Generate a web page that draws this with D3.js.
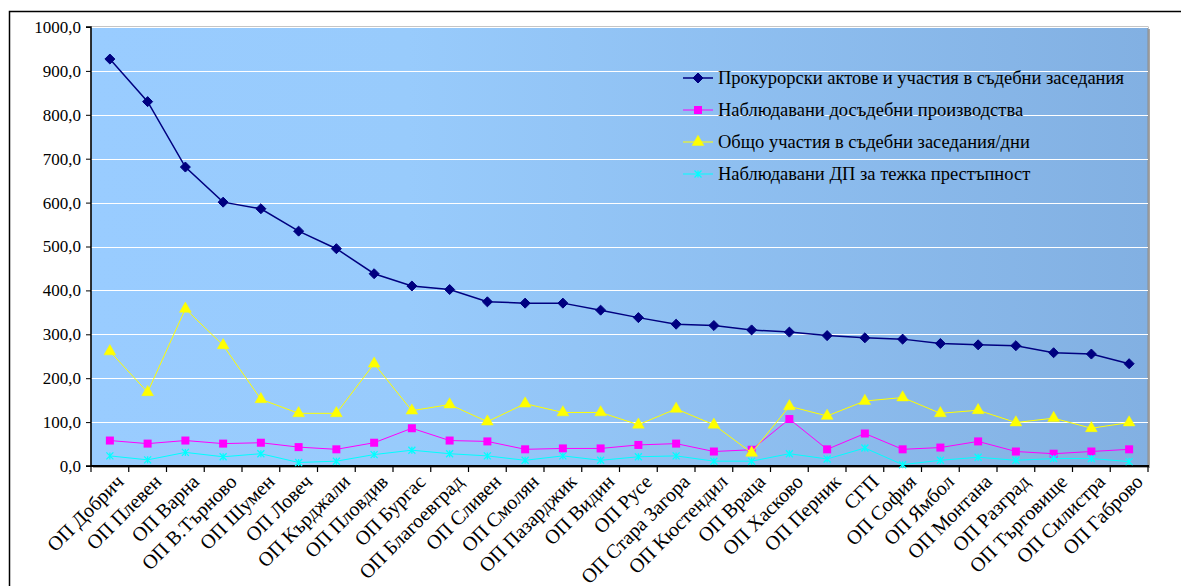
<!DOCTYPE html>
<html><head><meta charset="utf-8">
<script src="https://cdn.jsdelivr.net/npm/d3@7"></script>
<style>
html,body{margin:0;padding:0;background:#fff;overflow:hidden;}
svg text{font-family:"Liberation Serif","Times New Roman","DejaVu Serif",serif !important;}
</style></head>
<body>
<svg id="c" width="1181" height="586"></svg>
<script>
const categories = ["ОП Добрич","ОП Плевен","ОП Варна","ОП В.Търново","ОП Шумен","ОП Ловеч","ОП Кърджали","ОП Пловдив","ОП Бургас","ОП Благоевград","ОП Сливен","ОП Смолян","ОП Пазарджик","ОП Видин","ОП Русе","ОП Стара Загора","ОП Кюстендил","ОП Враца","ОП Хасково","ОП Перник","СГП","ОП София","ОП Ямбол","ОП Монтана","ОП Разград","ОП Търговище","ОП Силистра","ОП Габрово"];
const prosecutorActs = [927,830,681,601,586,535,495,438,410,402,374,371,371,355,338,323,320,310,305,297,292,289,279,276,274,258,255,233];
const pretrialObserved = [58,51,58,51,53,43,38,53,86,58,56,38,40,40,48,51,33,37,107,38,74,38,42,56,33,28,33,38];
const courtSessions = [261,168,358,275,152,120,120,233,126,140,101,142,122,122,94,130,94,30,136,114,148,156,120,127,99,109,86,99];
const seriousCrime = [23,14,31,21,28,8,11,26,36,28,23,13,23,13,21,23,11,11,28,16,41,3,13,20,13,17,17,10];
const yTicks = [0,100,200,300,400,500,600,700,800,900,1000];
const seriesNames = ["Прокурорски актове и участия в съдебни заседания","Наблюдавани досъдебни производства","Общо участия в съдебни заседания/дни","Наблюдавани ДП за тежка престъпност"];

const series = [
  {name:seriesNames[0], values:prosecutorActs, color:"#000080", marker:"diamond", lw:1.5},
  {name:seriesNames[1], values:pretrialObserved, color:"#ff00ff", marker:"square", lw:1},
  {name:seriesNames[2], values:courtSessions, color:"#ffff00", marker:"triangle", lw:1},
  {name:seriesNames[3], values:seriousCrime, color:"#00ffff", marker:"star", lw:1}
];

const svg = d3.select("#c");
const L=91, R=1148, T=27, B=466;
const x = d3.scaleBand().domain(categories).range([L,R]);
const cx = c => x(c)+x.bandwidth()/2;
const y = d3.scaleLinear().domain([0,1000]).range([B,T]);

svg.append("path").attr("d","M9.5,600 L9.5,11.5 L1200,11.5").attr("fill","none").attr("stroke","#000").attr("stroke-width",1.5);

const defs = svg.append("defs");
const g = defs.append("linearGradient").attr("id","bg").attr("x1","0").attr("x2","1").attr("y1","0").attr("y2","0");
g.append("stop").attr("offset","0").attr("stop-color","#99ccff");
g.append("stop").attr("offset","0.3").attr("stop-color","#98cbfc");
g.append("stop").attr("offset","1").attr("stop-color","#82b0e2");

svg.append("rect").attr("x",L+2).attr("y",T+2).attr("width",R-L).attr("height",B-T).attr("fill","#a6a6a6");
svg.append("rect").attr("x",L).attr("y",T).attr("width",R-L).attr("height",B-T).attr("fill","url(#bg)").attr("stroke","#8c8c8c").attr("stroke-width",1);

svg.append("g").selectAll("line").data(yTicks.filter(d=>d>0)).join("line")
  .attr("x1",L).attr("x2",R).attr("y1",d=>Math.round(y(d))+0.5).attr("y2",d=>Math.round(y(d))+0.5)
  .attr("stroke","#fff").attr("stroke-width",1.2);

const yAxis = d3.axisLeft(y).tickValues(yTicks).tickSize(5).tickPadding(5)
  .tickFormat(d=>d3.format(".1f")(d).replace(".",","));
const ya = svg.append("g").attr("transform",`translate(${L},0)`).call(yAxis);
ya.attr("font-family",null).attr("font-size",null);
ya.select(".domain").attr("stroke","#000").attr("stroke-width",1.5).attr("d",`M-5,${B}H0V${T}H-5`);
ya.selectAll(".tick line").attr("stroke","#000");
ya.selectAll("text").attr("font-size","17px").attr("fill","#000");

const xa = svg.append("g").attr("transform",`translate(0,${B})`);
xa.append("line").attr("x1",L).attr("x2",R+1).attr("y1",0).attr("y2",0).attr("stroke","#000").attr("stroke-width",2);
const bounds = categories.map(c=>x(c)).concat([R]);
xa.selectAll("line.t").data(bounds).join("line").attr("class","t")
  .attr("x1",d=>d).attr("x2",d=>d).attr("y1",0).attr("y2",6).attr("stroke","#000").attr("stroke-width",1.2);
xa.selectAll("text").data(categories).join("text")
  .attr("transform",d=>`translate(${cx(d)+15},${17}) rotate(-45)`)
  .attr("text-anchor","end").attr("font-size","20px").attr("fill","#000").text(d=>d);

const line = d3.line().x((d,i)=>cx(categories[i])).y(d=>y(d));
function marker(sel, type, color){
  if(type==="diamond") sel.append("path").attr("d",d3.symbol(d3.symbolDiamond2,64)()).attr("fill",color).attr("stroke",color);
  else if(type==="square") sel.append("rect").attr("x",-4).attr("y",-4).attr("width",8).attr("height",8).attr("fill",color);
  else if(type==="triangle") sel.append("path").attr("d",d3.symbol(d3.symbolTriangle,60)()).attr("fill",color).attr("stroke",color).attr("stroke-width",0.5);
  else if(type==="star") sel.append("path").attr("d","M-3.5,-3.5L3.5,3.5M-3.5,3.5L3.5,-3.5M0,-3.5L0,3.5").attr("stroke",color).attr("stroke-width",1.3).attr("fill","none");
}
series.forEach(s=>{
  const gs = svg.append("g");
  gs.append("path").attr("d",line(s.values)).attr("fill","none").attr("stroke",s.color).attr("stroke-width",s.lw);
  gs.selectAll("g").data(s.values).join("g")
    .attr("transform",(d,i)=>`translate(${cx(categories[i])},${y(d)})`)
    .each(function(){ marker(d3.select(this), s.marker, s.color); });
});

const lg = svg.append("g");
series.forEach((s,i)=>{
  const yy = 78 + i*32;
  const r = lg.append("g").attr("transform",`translate(0,${yy})`);
  r.append("line").attr("x1",683).attr("x2",713).attr("y1",0).attr("y2",0).attr("stroke",s.color).attr("stroke-width",s.lw);
  const m = r.append("g").attr("transform","translate(698,0)");
  marker(m, s.marker, s.color);
  r.append("text").attr("x",718).attr("y",5.5).attr("font-size","18.5px").attr("fill","#000").text(s.name);
});
</script>
</body></html>
